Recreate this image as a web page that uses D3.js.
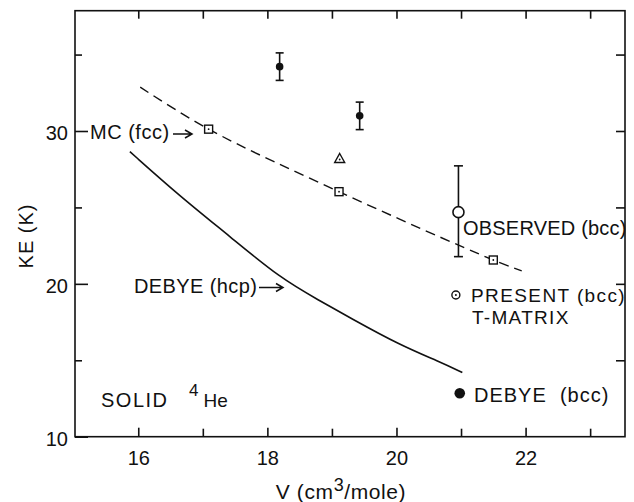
<!DOCTYPE html>
<html>
<head>
<meta charset="utf-8">
<script src="https://cdn.jsdelivr.net/npm/d3@7"></script>
<style>
  body { margin: 0; background: #fff; }
  svg text { font-family: "Liberation Sans", Arial, sans-serif; fill: #111; }
</style>
</head>
<body>
<svg id="chart" width="634" height="502"></svg>
<script>
// DEBYE (hcp) solid curve
const hcpV = [15.87, 16.64, 17.42, 18.19, 18.81, 19.28, 20.05, 20.67, 21.02];
const hcpKE = [28.65, 25.75, 23.1, 20.4, 18.9, 17.78, 16.0, 14.9, 14.2];

// MC (fcc) dashed curve and its points
const mcLineV = [16.03, 17.09, 19.11, 21.5, 21.94];
const mcLineKE = [32.87, 30.12, 26.03, 21.56, 20.85];
const mcV = [17.09, 19.11, 21.5];
const mcKE = [30.12, 26.03, 21.56];

// triangle point
const triV = [19.12];
const triKE = [28.2];

// filled points with error bars
const expV = [18.19, 19.43];
const expKE = [34.21, 30.99];
const expErr = [0.9, 0.9];

// observed (bcc)
const obsV = [20.96];
const obsKE = [24.69];
const obsLo = [21.78];
const obsHi = [27.72];

// present T-matrix (bcc) and Debye (bcc)
const presentV = [20.92];
const presentKE = [19.27];
const debyeBccV = [20.98];
const debyeBccKE = [12.84];

const xMajor = [16, 18, 20, 22];
const xMinor = [17, 19, 21, 23];
const yMajor = [10, 20, 30];
const yMinor = [15, 25, 35];
const yRight = [15, 20, 25, 30, 35];

const svg = d3.select("#chart");
const m = { left: 75, right: 625, top: 10.7, bottom: 436.7 };

const x = d3.scaleLinear().domain([15.02, 23.54]).range([m.left, m.right]);
const y = d3.scaleLinear().domain([10, 37.87]).range([m.bottom, m.top]);

const pts = (vs, ks) => vs.map((v, i) => ({ v: v, k: ks[i] }));

// frame
svg.append("rect")
  .attr("x", m.left).attr("y", m.top)
  .attr("width", m.right - m.left).attr("height", m.bottom - m.top)
  .attr("fill", "none").attr("stroke", "#111").attr("stroke-width", 1.6);

// axes (ticks point inward)
function styleAxis(g) {
  g.select(".domain").remove();
  g.selectAll(".tick line").attr("stroke", "#111").attr("stroke-width", 1.6);
  g.selectAll(".tick text")
    .style("font-family", "'Liberation Sans', Arial, sans-serif")
    .style("font-size", "20px").attr("fill", "#111");
}

svg.append("g").attr("transform", `translate(0,${m.bottom})`)
  .call(d3.axisBottom(x).tickValues(xMajor).tickSize(-9).tickPadding(14).tickFormat(d3.format("d")))
  .call(styleAxis);
svg.append("g").attr("transform", `translate(0,${m.bottom})`)
  .call(d3.axisBottom(x).tickValues(xMinor).tickSize(-8).tickFormat(""))
  .call(styleAxis);
svg.append("g").attr("transform", `translate(0,${m.top})`)
  .call(d3.axisTop(x).tickValues(xMajor.concat(xMinor)).tickSize(-8).tickFormat(""))
  .call(styleAxis);
svg.append("g").attr("transform", `translate(${m.left},0)`)
  .call(d3.axisLeft(y).tickValues(yMajor).tickSize(-13).tickPadding(7).tickFormat(d3.format("d")))
  .call(styleAxis)
  .selectAll(".tick text").attr("dy", "0.42em");
svg.append("g").attr("transform", `translate(${m.left},0)`)
  .call(d3.axisLeft(y).tickValues(yMinor).tickSize(-7).tickFormat(""))
  .call(styleAxis);
svg.append("g").attr("transform", `translate(${m.right},0)`)
  .call(d3.axisRight(y).tickValues(yRight).tickSize(-9).tickFormat(""))
  .call(styleAxis);

// axis titles
svg.append("text")
  .attr("transform", "translate(33,236) rotate(-90)")
  .attr("text-anchor", "middle")
  .style("font-size", "20px").style("letter-spacing", "1px")
  .text("KE (K)");

const xt = svg.append("text")
  .attr("x", 341).attr("y", 499)
  .attr("text-anchor", "middle")
  .style("font-size", "21px").style("letter-spacing", "0.6px");
xt.append("tspan").text("V (cm");
xt.append("tspan").attr("dy", -8).style("font-size", "18px").text("3");
xt.append("tspan").attr("dy", 8).text("/mole)");

// curves
const line = d3.line()
  .curve(d3.curveCatmullRom)
  .x((d) => x(d.v))
  .y((d) => y(d.k));

const smooth = d3.line()
  .curve(d3.curveBasis)
  .x((d) => x(d.v))
  .y((d) => y(d.k));

svg.append("path")
  .datum(pts(hcpV, hcpKE))
  .attr("fill", "none").attr("stroke", "#111").attr("stroke-width", 1.6)
  .attr("d", smooth);

svg.append("path")
  .datum(pts(mcLineV, mcLineKE))
  .attr("fill", "none").attr("stroke", "#111").attr("stroke-width", 1.4)
  .attr("stroke-dasharray", "10,6")
  .attr("d", line);

// MC squares
const sq = svg.append("g").selectAll("g")
  .data(pts(mcV, mcKE))
  .enter().append("g")
  .attr("transform", (d) => `translate(${x(d.v)},${y(d.k)})`);
sq.append("rect")
  .attr("x", -4).attr("y", -4).attr("width", 8).attr("height", 8)
  .attr("fill", "#fff").attr("stroke", "#111").attr("stroke-width", 1.4);
sq.append("circle").attr("r", 0.9).attr("fill", "#111");

// triangle
const tri = svg.append("g").selectAll("g")
  .data(pts(triV, triKE))
  .enter().append("g")
  .attr("transform", (d) => `translate(${x(d.v)},${y(d.k)})`);
tri.append("path")
  .attr("d", "M0,-5 L5,4 L-5,4 Z")
  .attr("fill", "#fff").attr("stroke", "#111").attr("stroke-width", 1.4);
tri.append("circle").attr("cy", 1).attr("r", 0.9).attr("fill", "#111");

// error bars
function errorBar(vx, lo, hi, cap) {
  const g = svg.append("g").attr("stroke", "#111").attr("stroke-width", 1.6);
  g.append("line").attr("x1", x(vx)).attr("x2", x(vx)).attr("y1", y(lo)).attr("y2", y(hi));
  g.append("line").attr("x1", x(vx) - cap).attr("x2", x(vx) + cap).attr("y1", y(lo)).attr("y2", y(lo));
  g.append("line").attr("x1", x(vx) - cap).attr("x2", x(vx) + cap).attr("y1", y(hi)).attr("y2", y(hi));
}

expV.forEach((v, i) => errorBar(v, expKE[i] - expErr[i], expKE[i] + expErr[i], 4));
svg.append("g").selectAll("circle")
  .data(pts(expV, expKE))
  .enter().append("circle")
  .attr("cx", (d) => x(d.v)).attr("cy", (d) => y(d.k))
  .attr("r", 3.8).attr("fill", "#111");

obsV.forEach((v, i) => errorBar(v, obsLo[i], obsHi[i], 4.5));
svg.append("g").selectAll("circle")
  .data(pts(obsV, obsKE))
  .enter().append("circle")
  .attr("cx", (d) => x(d.v)).attr("cy", (d) => y(d.k))
  .attr("r", 5.5).attr("fill", "#fff").attr("stroke", "#111").attr("stroke-width", 1.6);

const pr = svg.append("g").selectAll("g")
  .data(pts(presentV, presentKE))
  .enter().append("g")
  .attr("transform", (d) => `translate(${x(d.v)},${y(d.k)})`);
pr.append("circle").attr("r", 4).attr("fill", "#fff").attr("stroke", "#111").attr("stroke-width", 1.4);
pr.append("circle").attr("r", 1).attr("fill", "#111");

svg.append("g").selectAll("circle")
  .data(pts(debyeBccV, debyeBccKE))
  .enter().append("circle")
  .attr("cx", (d) => x(d.v)).attr("cy", (d) => y(d.k))
  .attr("r", 5.3).attr("fill", "#111");

// labels
const labels = [
  { text: "MC (fcc)", x: 90, y: 139, fs: 20, ls: 0.5 },
  { text: "DEBYE (hcp)", x: 134, y: 293, fs: 20, ls: 0.4 },
  { text: "OBSERVED (bcc)", x: 463, y: 235, fs: 20, ls: 0.2 },
  { text: "PRESENT (bcc)", x: 471, y: 302, fs: 19, ls: 1.4 },
  { text: "T-MATRIX", x: 472, y: 323.5, fs: 19, ls: 1.3 },
  { text: "DEBYE  (bcc)", x: 474, y: 401.5, fs: 20, ls: 1 },
  { text: "SOLID", x: 101, y: 406.5, fs: 20, ls: 1.5 }
];
svg.append("g").selectAll("text")
  .data(labels)
  .enter().append("text")
  .attr("x", (d) => d.x).attr("y", (d) => d.y)
  .style("font-size", (d) => d.fs + "px")
  .style("letter-spacing", (d) => d.ls + "px")
  .style("white-space", "pre")
  .text((d) => d.text);

const he = svg.append("text").attr("x", 189).attr("y", 406.5).style("font-size", "19px");
he.append("tspan").attr("dy", -11).style("font-size", "17px").text("4");
he.append("tspan").attr("dy", 11).attr("dx", 5).text("He");

// arrows
const arrows = [
  { x1: 173, x2: 192, y: 134 },
  { x1: 259, x2: 283, y: 287.5 }
];
svg.append("g").selectAll("path")
  .data(arrows)
  .enter().append("path")
  .attr("fill", "none").attr("stroke", "#111").attr("stroke-width", 1.5)
  .attr("d", (d) => `M${d.x1},${d.y}L${d.x2},${d.y}M${d.x2 - 7},${d.y - 4}L${d.x2},${d.y}L${d.x2 - 7},${d.y + 4}`);
</script>
</body>
</html>
